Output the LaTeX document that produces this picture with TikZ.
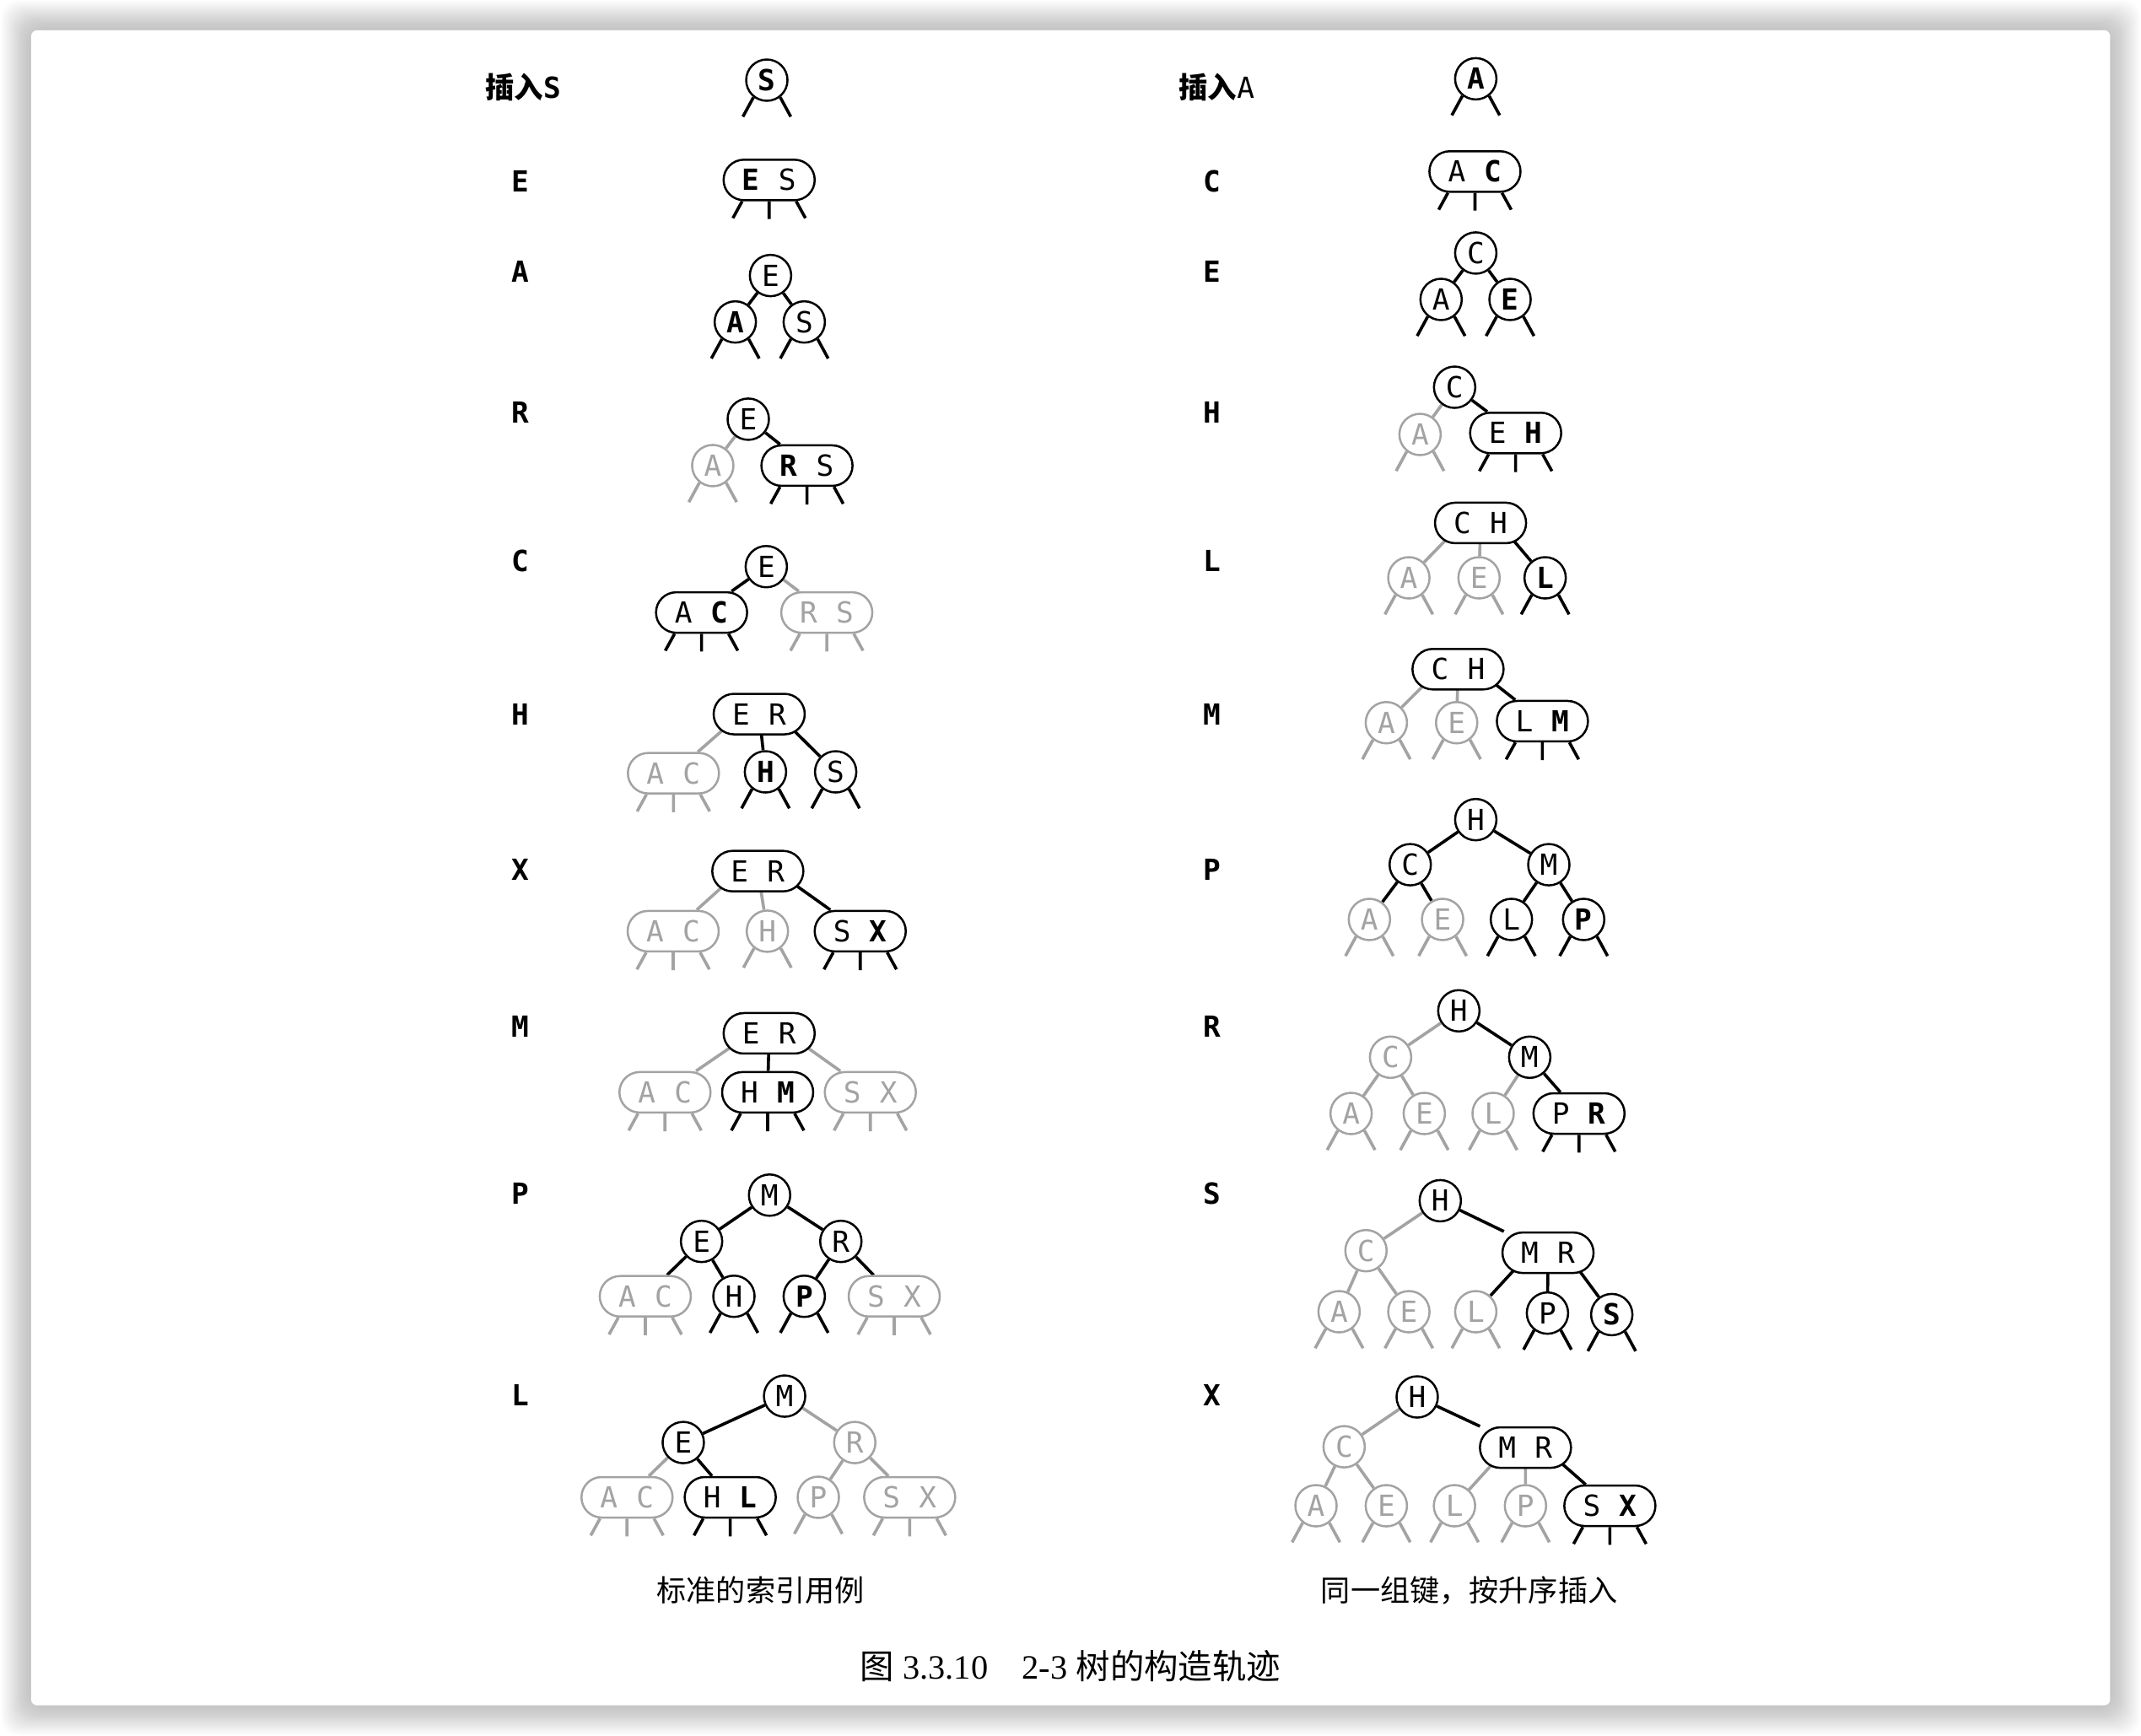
\documentclass[tikz,border=0pt]{standalone}
\usepackage{fontspec}
\setmainfont{Liberation Serif}
\newfontfamily\keyfont{DejaVu Sans Mono}
\newfontfamily\cjk{Noto Sans CJK SC}
\usepackage{tikz}
\usetikzlibrary{backgrounds}

\definecolor{faded}{gray}{0.64}
\newcommand{\pair}[2]{\makebox[4.3mm]{#1}\makebox[4.3mm]{#2}}
% stubs under a 2-node and a 3-node
\newcommand{\legtwo}[2][black]{\draw[stub,#1] (#2.-128) -- ++(-1.25mm,-2.3mm) (#2.-52) -- ++(1.25mm,-2.3mm);}
\newcommand{\legthree}[2][black]{\draw[stub,#1] ([xshift=-3.2mm]#2.south) -- ++(-1.1mm,-2mm) (#2.south) -- ++(0,-2.1mm) ([xshift=3.2mm]#2.south) -- ++(1.1mm,-2mm);}

\tikzset{
  key/.style={circle,draw,line width=0.25mm,fill=white,minimum size=4.9mm,inner sep=0pt,
    font=\keyfont\fontsize{9.8pt}{11pt}\selectfont},
  keys/.style={rectangle,rounded corners=2.4mm,draw,line width=0.25mm,fill=white,
    minimum width=10.8mm,minimum height=4.8mm,inner sep=0pt,font=\keyfont\fontsize{9.8pt}{11pt}\selectfont},
  old/.style={draw=faded,text=faded},
  lnk/.style={line width=0.36mm},
  stub/.style={line width=0.36mm},
  lbl/.style={font=\keyfont\bfseries\fontsize{9.8pt}{11pt}\selectfont},
  capt/.style={font=\cjk\fontsize{10pt}{12pt}\selectfont},
}

\begin{document}
\begin{tikzpicture}[x=0.16186mm,y=-0.16186mm]
    \useasboundingbox (0,0) rectangle (1568,1271);

    \begin{scope}[on background layer]
        \foreach \i in {1,...,22}
            \fill[black,opacity=0.011,rounded corners=6] (22.8-\i,22.2-\i) rectangle (1545.4+\i,1249+\i);
        \fill[white,rounded corners=2] (22.8,22.2) rectangle (1545.4,1249);
    \end{scope}

    % row labels
    \node[lbl] (ls1) at (383,63.6) {{\cjk 插入}S};
    \foreach \k/\y [count=\n from 2] in {E/133,A/199,R/302,C/411,H/523,X/637,M/752,P/874,L/1022}
        \node[lbl] (ls\n) at (381,\y) {\k};
    \node[lbl] (rs1) at (891,63.6) {{\cjk 插入}\mdseries A};
    \foreach \k/\y [count=\n from 2] in {C/133,E/199,H/302,L/411,M/523,P/637,R/752,S/874,X/1022}
        \node[lbl] (rs\n) at (888,\y) {\k};

    % ---------- left column ----------
    \node[key] (l1s) at (561.6,58.7) {\textbf{S}};
    \legtwo{l1s}

    \node[keys] (l2es) at (563.3,131.8) {\pair{\textbf{E}}{S}};
    \legthree{l2es}

    \node[key] (l3e) at (564.3,201.8) {E};
    \node[key] (l3a) at (538.5,235.8) {\textbf{A}};
    \node[key] (l3s) at (589,235.8) {S};
    \legtwo{l3a} \legtwo{l3s}

    \node[key] (l4e) at (548,307) {E};
    \node[key,old] (l4a) at (522,341) {A};
    \node[keys] (l4rs) at (591,341) {\pair{\textbf{R}}{S}};
    \legtwo[faded]{l4a} \legthree{l4rs}

    \node[key] (l5e) at (561.2,415) {E};
    \node[keys] (l5ac) at (513.8,448.6) {\pair{A}{\textbf{C}}};
    \node[keys,old] (l5rs) at (605.5,448.6) {\pair{R}{S}};
    \legthree{l5ac} \legthree[faded]{l5rs}

    \node[keys] (l6er) at (556,523) {\pair{E}{R}};
    \node[keys,old] (l6ac) at (493.2,566.3) {\pair{A}{C}};
    \node[key] (l6h) at (560.6,565.3) {\textbf{H}};
    \node[key] (l6s) at (612,565.3) {S};
    \legthree[faded]{l6ac} \legtwo{l6h} \legtwo{l6s}

    \node[keys] (l7er) at (555,638) {\pair{E}{R}};
    \node[keys,old] (l7ac) at (493,682) {\pair{A}{C}};
    \node[key,old] (l7h) at (562,682) {H};
    \node[keys] (l7sx) at (630,682) {\pair{S}{\textbf{X}}};
    \legthree[faded]{l7ac} \legtwo[faded]{l7h} \legthree{l7sx}

    \node[keys] (l8er) at (563.3,756.8) {\pair{E}{R}};
    \node[keys,old] (l8ac) at (487,800) {\pair{A}{C}};
    \node[keys] (l8hm) at (562.2,800) {\pair{H}{\textbf{M}}};
    \node[keys,old] (l8sx) at (637.4,800) {\pair{S}{X}};
    \legthree[faded]{l8ac} \legthree{l8hm} \legthree[faded]{l8sx}

    \node[key] (l9m) at (563.6,875.3) {M};
    \node[key] (l9e) at (513.8,909.2) {E};
    \node[key] (l9r) at (615.8,909.2) {R};
    \node[keys,old] (l9ac) at (472.6,949.4) {\pair{A}{C}};
    \node[key] (l9h) at (537.5,949.4) {H};
    \node[key] (l9p) at (589,949.4) {\textbf{P}};
    \node[keys,old] (l9sx) at (654.9,949.4) {\pair{S}{X}};
    \legthree[faded]{l9ac} \legtwo{l9h} \legtwo{l9p} \legthree[faded]{l9sx}

    \node[key] (l10m) at (574.6,1022.5) {M};
    \node[key] (l10e) at (500.4,1056.5) {E};
    \node[key,old] (l10r) at (626,1056.5) {R};
    \node[keys,old] (l10ac) at (459.2,1096.6) {\pair{A}{C}};
    \node[keys] (l10hl) at (534.8,1096.6) {\pair{H}{\textbf{L}}};
    \node[key,old] (l10p) at (599.3,1096.6) {P};
    \node[keys,old] (l10sx) at (666.2,1096.6) {\pair{S}{X}};
    \legthree[faded]{l10ac} \legthree{l10hl} \legtwo[faded]{l10p} \legthree[faded]{l10sx}

    % ---------- right column ----------
    \node[key] (r1a) at (1080.8,57.7) {\textbf{A}};
    \legtwo{r1a}

    \node[keys] (r2ac) at (1080.2,125.6) {\pair{A}{\textbf{C}}};
    \legthree{r2ac}

    \node[key] (r3c) at (1080.8,185.3) {C};
    \node[key] (r3a) at (1055.4,219.3) {A};
    \node[key] (r3e) at (1105.9,219.3) {\textbf{E}};
    \legtwo{r3a} \legtwo{r3e}

    \node[key] (r4c) at (1065.3,283.6) {C};
    \node[key,old] (r4a) at (1040,318.2) {A};
    \node[keys] (r4eh) at (1110,317.1) {\pair{E}{\textbf{H}}};
    \legtwo[faded]{r4a} \legthree{r4eh}

    \node[keys] (r5ch) at (1084.3,383) {\pair{C}{H}};
    \node[key,old] (r5a) at (1031.8,423.2) {A};
    \node[key,old] (r5e) at (1083.2,423.2) {E};
    \node[key] (r5l) at (1131.6,423.2) {\textbf{L}};
    \legtwo[faded]{r5a} \legtwo[faded]{r5e} \legtwo{r5l}

    \node[keys] (r6ch) at (1067.8,490.1) {\pair{C}{H}};
    \node[key,old] (r6a) at (1015.3,529.3) {A};
    \node[key,old] (r6e) at (1066.8,529.3) {E};
    \node[keys] (r6lm) at (1129.6,528.2) {\pair{L}{\textbf{M}}};
    \legtwo[faded]{r6a} \legtwo[faded]{r6e} \legthree{r6lm}

    \node[key] (r7h) at (1080.8,600.3) {H};
    \node[key] (r7c) at (1032.8,633.3) {C};
    \node[key] (r7m) at (1134.3,633.3) {M};
    \node[key,old] (r7a) at (1002.9,673.4) {A};
    \node[key,old] (r7e) at (1056.5,673.4) {E};
    \node[key] (r7l) at (1106.9,673.4) {L};
    \node[key] (r7p) at (1159.8,673.4) {\textbf{P}};
    \legtwo[faded]{r7a} \legtwo[faded]{r7e} \legtwo{r7l} \legtwo{r7p}

    \node[key] (r8h) at (1068.4,740.3) {H};
    \node[key,old] (r8c) at (1018.4,774.3) {C};
    \node[key] (r8m) at (1120.3,774.3) {M};
    \node[key,old] (r8a) at (989.5,815.5) {A};
    \node[key,old] (r8e) at (1043.1,815.5) {E};
    \node[key,old] (r8l) at (1093.5,815.5) {L};
    \node[keys] (r8pr) at (1156.4,815.5) {\pair{P}{\textbf{R}}};
    \legtwo[faded]{r8a} \legtwo[faded]{r8e} \legtwo[faded]{r8l} \legthree{r8pr}

    \node[key] (r9h) at (1054.8,879.4) {H};
    \node[key,old] (r9c) at (1000.4,916) {C};
    \node[keys] (r9mr) at (1133.7,917.5) {\pair{M}{R}};
    \node[key,old] (r9a) at (980.7,960.7) {A};
    \node[key,old] (r9e) at (1031.8,960.7) {E};
    \node[key,old] (r9l) at (1080.8,960.7) {L};
    \node[key] (r9p) at (1133.3,961.7) {P};
    \node[key] (r9s) at (1180.4,962.8) {\textbf{S}};
    \legtwo[faded]{r9a} \legtwo[faded]{r9e} \legtwo[faded]{r9l} \legtwo{r9p} \legtwo{r9s}

    \node[key] (r10h) at (1037.9,1023.1) {H};
    \node[key,old] (r10c) at (984.4,1059.6) {C};
    \node[keys] (r10mr) at (1117.2,1060.2) {\pair{M}{R}};
    \node[key,old] (r10a) at (963.8,1102.8) {A};
    \node[key,old] (r10e) at (1015.3,1102.8) {E};
    \node[key,old] (r10l) at (1065.2,1102.8) {L};
    \node[key,old] (r10p) at (1117.2,1102.8) {P};
    \node[keys] (r10sx) at (1179,1102.8) {\pair{S}{\textbf{X}}};
    \legtwo[faded]{r10a} \legtwo[faded]{r10e} \legtwo[faded]{r10l} \legtwo[faded]{r10p} \legthree{r10sx}

    % links, under the nodes
    \begin{scope}[on background layer]
        \draw[lnk] (l3e) -- (l3a) (l3e) -- (l3s);
        \draw[lnk,faded] (l4e) -- (l4a);
        \draw[lnk] (l4e) -- (l4rs);
        \draw[lnk] (l5e) -- (l5ac);
        \draw[lnk,faded] (l5e) -- (l5rs);
        \draw[lnk,faded] ([xshift=-2.15mm]l6er.center) -- (l6ac);
        \draw[lnk] (l6er.center) -- (l6h) ([xshift=2.15mm]l6er.center) -- (l6s);
        \draw[lnk,faded] ([xshift=-2.15mm]l7er.center) -- (l7ac) (l7er.center) -- (l7h);
        \draw[lnk] ([xshift=2.15mm]l7er.center) -- (l7sx);
        \draw[lnk,faded] ([xshift=-2.15mm]l8er.center) -- (l8ac) ([xshift=2.15mm]l8er.center) -- (l8sx);
        \draw[lnk] (l8er.center) -- (l8hm);
        \draw[lnk] (l9m) -- (l9e) (l9m) -- (l9r) (l9e) -- (l9ac) (l9e) -- (l9h) (l9r) -- (l9p) (l9r) -- (l9sx);
        \draw[lnk] (l10m) -- (l10e) (l10e) -- (l10hl);
        \draw[lnk,faded] (l10m) -- (l10r) (l10e) -- (l10ac) (l10r) -- (l10p) (l10r) -- (l10sx);

        \draw[lnk] (r3c) -- (r3a) (r3c) -- (r3e);
        \draw[lnk,faded] (r4c) -- (r4a);
        \draw[lnk] (r4c) -- (r4eh);
        \draw[lnk,faded] ([xshift=-2.15mm]r5ch.center) -- (r5a) (r5ch.center) -- (r5e);
        \draw[lnk] ([xshift=2.15mm]r5ch.center) -- (r5l);
        \draw[lnk,faded] ([xshift=-2.15mm]r6ch.center) -- (r6a) (r6ch.center) -- (r6e);
        \draw[lnk] ([xshift=2.15mm]r6ch.center) -- (r6lm);
        \draw[lnk] (r7h) -- (r7c) (r7h) -- (r7m) (r7c) -- (r7a) (r7c) -- (r7e) (r7m) -- (r7l) (r7m) -- (r7p);
        \draw[lnk,faded] (r8h) -- (r8c) (r8c) -- (r8a) (r8c) -- (r8e) (r8m) -- (r8l);
        \draw[lnk] (r8h) -- (r8m) (r8m) -- (r8pr);
        \draw[lnk,faded] (r9h) -- (r9c) (r9c) -- (r9a) (r9c) -- (r9e);
        \draw[lnk] (r9h) -- (r9mr) ([xshift=-2.15mm]r9mr.center) -- (r9l) (r9mr.center) -- (r9p)
            ([xshift=2.15mm]r9mr.center) -- (r9s);
        \draw[lnk,faded] (r10h) -- (r10c) (r10c) -- (r10a) (r10c) -- (r10e)
            ([xshift=-2.15mm]r10mr.center) -- (r10l) (r10mr.center) -- (r10p);
        \draw[lnk] (r10h) -- (r10mr) ([xshift=2.15mm]r10mr.center) -- (r10sx);
    \end{scope}

    % captions
    \node[capt] (capl) at (557,1164.6) {标准的索引用例};
    \node[capt] (capr) at (1076,1164.6) {同一组键，按升序插入};
    \node[font=\fontsize{11.5pt}{13pt}\selectfont] (fig) at (784,1220)
        {{\cjk 图} 3.3.10\quad 2-3 {\cjk 树的构造轨迹}};
\end{tikzpicture}
\end{document}
